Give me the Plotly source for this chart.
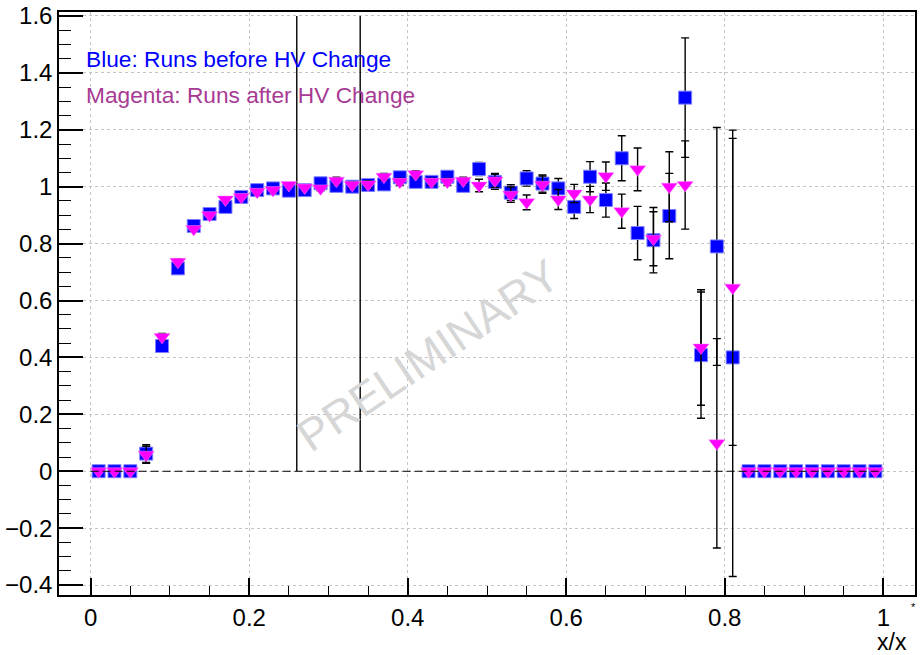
import plotly.graph_objects as go

# bin centres
x_bins = [0.01, 0.03, 0.05, 0.07, 0.09, 0.11, 0.13, 0.15, 0.17, 0.19,
          0.21, 0.23, 0.25, 0.27, 0.29, 0.31, 0.33, 0.35, 0.37, 0.39,
          0.41, 0.43, 0.45, 0.47, 0.49, 0.51, 0.53, 0.55, 0.57, 0.59,
          0.61, 0.63, 0.65, 0.67, 0.69, 0.71, 0.73, 0.75, 0.77, 0.79,
          0.81, 0.83, 0.85, 0.87, 0.89, 0.91, 0.93, 0.95, 0.97, 0.99]

# Blue: runs before HV change
blue_y = [0, 0, 0, 0.062, 0.440, 0.713, 0.862, 0.904, 0.929, 0.964,
          0.988, 0.994, 0.986, 0.988, 1.012, 1.003, 1.000, 1.006, 1.008, 1.033,
          1.017, 1.017, 1.035, 1.003, 1.062, 1.017, 0.979, 1.029, 1.011, 0.994,
          0.929, 1.035, 0.953, 1.100, 0.837, 0.812, 0.897, 1.313, 0.408, 0.790,
          0.400, 0, 0, 0, 0, 0, 0, 0, 0, 0]
blue_err = [0, 0, 0, 0.031, 0.012, 0.010, 0.008, 0.008, 0.008, 0.008,
            0.008, 0.008, 0.008, 0.008, 0.008, 0.012, 0.012, 0.012, 0.012, 0.012,
            0.012, 0.012, 0.012, 0.012, 0.023, 0.026, 0.028, 0.027, 0.030, 0.035,
            0.041, 0.053, 0.060, 0.079, 0.094, 0.115, 0.150, 0.210, 0.222, 0.418,
            0.770, 0, 0, 0, 0, 0, 0, 0, 0, 0]

# Magenta: runs after HV change
mag_y = [0, 0, 0, 0.058, 0.472, 0.736, 0.851, 0.900, 0.955, 0.964,
         0.982, 0.988, 1.006, 0.997, 0.994, 1.021, 1.006, 1.008, 1.035, 1.017,
         1.044, 1.017, 1.017, 1.021, 1.004, 1.022, 0.972, 0.945, 1.007, 0.955,
         0.976, 0.955, 1.037, 0.914, 1.061, 0.817, 1.000, 1.006, 0.435, 0.098,
         0.645, 0, 0, 0, 0, 0, 0, 0, 0, 0]
mag_err = [0, 0, 0, 0.030, 0.012, 0.010, 0.008, 0.008, 0.008, 0.008,
           0.008, 0.008, 0.008, 0.008, 0.008, 0.012, 0.012, 0.012, 0.012, 0.012,
           0.012, 0.012, 0.012, 0.012, 0.022, 0.025, 0.027, 0.026, 0.030, 0.035,
           0.032, 0.046, 0.050, 0.060, 0.075, 0.095, 0.123, 0.155, 0.203, 0.368,
           0.554, 0, 0, 0, 0, 0, 0, 0, 0, 0]

# vertical marker lines and reference line
vline_x = [0.26, 0.34]
vline_top = 1.6
ref_line_x = [0.0, 1.0]
ref_line_y = 0.0

x_ticks = [0, 0.2, 0.4, 0.6, 0.8, 1.0]
x_ticktext = ["0", "0.2", "0.4", "0.6", "0.8", "1"]
y_ticks = [-0.4, -0.2, 0, 0.2, 0.4, 0.6, 0.8, 1.0, 1.2, 1.4, 1.6]
y_ticktext = ["\u22120.4", "\u22120.2", "0", "0.2", "0.4", "0.6", "0.8", "1", "1.2", "1.4", "1.6"]

FONT = "Liberation Sans, Arial, Helvetica, sans-serif"

fig = go.Figure()

# vertical lines
vx, vy = [], []
for v in vline_x:
    vx += [v, v, None]
    vy += [0, vline_top, None]
fig.add_trace(go.Scatter(x=vx, y=vy, mode="lines",
                         line=dict(color="black", width=1.4), hoverinfo="skip"))

fig.add_trace(go.Scatter(
    x=x_bins, y=blue_y, mode="markers",
    error_y=dict(type="data", array=blue_err, color="black", thickness=1.4, width=4),
    marker=dict(symbol="square", size=13, color="#0000ff",
                line=dict(color="#7f7fff", width=1)),
    name="Blue"))

fig.add_trace(go.Scatter(
    x=x_bins, y=mag_y, mode="markers",
    error_y=dict(type="data", array=mag_err, color="black", thickness=1.4, width=4),
    marker=dict(symbol="triangle-down", size=14, color="#ff00ff",
                line=dict(color="#ff80ff", width=0.5)),
    name="Magenta"))

# dashed zero line
fig.add_trace(go.Scatter(x=ref_line_x, y=[ref_line_y, ref_line_y], mode="lines",
                         line=dict(color="black", width=1.2, dash="8px,4px"),
                         hoverinfo="skip"))

axis_common = dict(
    showline=True, linecolor="black", linewidth=1.5, mirror=True,
    ticks="inside", tickcolor="black", tickwidth=1.5,
    showgrid=True, gridcolor="#c4c4c4", griddash="dot", gridwidth=1,
    zeroline=False, automargin=False,
    tickfont=dict(family=FONT, size=24, color="black"),
)

fig.update_xaxes(range=[-0.04, 1.04], tickvals=x_ticks, ticktext=x_ticktext,
                 ticklen=17,
                 minor=dict(tick0=0, dtick=0.05, ticks="inside", ticklen=9,
                            tickcolor="black", tickwidth=1.2, showgrid=False),
                 **axis_common)
fig.update_yaxes(range=[-0.435, 1.614], tickvals=y_ticks, ticktext=y_ticktext,
                 ticklen=24,
                 minor=dict(tick0=0, dtick=0.05, ticks="inside", ticklen=12,
                            tickcolor="black", tickwidth=1.2, showgrid=False),
                 **axis_common)

fig.update_layout(
    width=922, height=655,
    margin=dict(l=59, r=7, t=12, b=60),
    paper_bgcolor="white", plot_bgcolor="white",
    showlegend=False,
    font=dict(family=FONT, size=22, color="black"),
    annotations=[
        dict(text="PRELIMINARY", x=0.4256, y=0.407, xref="x", yref="y",
             showarrow=False, textangle=-34,
             font=dict(family=FONT, size=45, color="#d6d6d6")),
        dict(text="Blue: Runs before HV Change", x=-0.0085, y=1.448, xref="x", yref="y",
             xanchor="left", yanchor="middle", showarrow=False,
             font=dict(family=FONT, size=22.7, color="#0000ff")),
        dict(text="Magenta: Runs after HV Change", x=-0.0085, y=1.321, xref="x", yref="y",
             xanchor="left", yanchor="middle", showarrow=False,
             font=dict(family=FONT, size=22.7, color="#a83a94")),
        dict(text="x/x", x=1, y=0, xref="paper", yref="paper",
             xanchor="right", yanchor="top", xshift=-6, yshift=-32,
             showarrow=False, font=dict(family=FONT, size=23, color="black")),
        dict(text="*", x=1, y=0, xref="paper", yref="paper",
             xanchor="right", yanchor="top", xshift=3, yshift=-4,
             showarrow=False, font=dict(family=FONT, size=11, color="black")),
    ],
)

fig.write_html("out.html")
